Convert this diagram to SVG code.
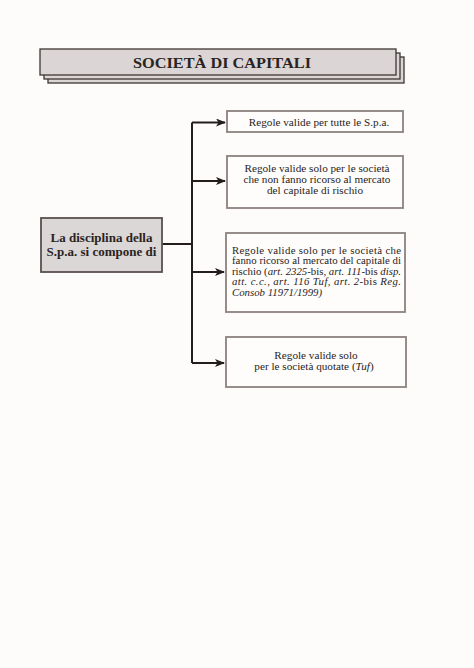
<svg xmlns="http://www.w3.org/2000/svg" width="474" height="668" viewBox="0 0 474 668">
<style>
.bg{fill:#fdfcfb}
.tbox{fill:#dbd6d5;stroke:#3e3532;stroke-width:1.3}
.mbox{fill:#dcd7d7;stroke:#5a504d;stroke-width:1.8}
.box{fill:#fefdfc;stroke:#8c817e;stroke-width:1.8}
.t{font-family:"Liberation Serif","Times New Roman",serif;fill:#2a2321}
.b{font-weight:bold}
.c{text-anchor:middle}
.s{font-size:11.2px}
.s3{font-size:10.8px}
.line{fill:none;stroke:#231e1c;stroke-width:2}
</style>
<defs>
<marker id="ah" markerWidth="10" markerHeight="8" refX="9" refY="4" orient="auto" markerUnits="userSpaceOnUse">
<path d="M0,0 L10,4 L0,8 L2.5,4 Z" fill="#231e1c"/>
</marker>
</defs>
<rect class="bg" width="474" height="668"/>
<g id="title">
<rect class="tbox" x="48" y="57" width="356" height="26"/>
<rect class="tbox" x="44" y="53" width="356" height="26"/>
<rect class="tbox" x="40" y="49" width="356" height="26"/>
<text class="t b" x="133" y="67.5" font-size="15" textLength="178" lengthAdjust="spacingAndGlyphs">SOCIETÀ DI CAPITALI</text>
</g>
<g id="connectors">
<path class="line" d="M162,244 H192"/>
<path class="line" d="M192,122.5 V363"/>
<path class="line" d="M192,122.5 H225" marker-end="url(#ah)"/>
<path class="line" d="M192,181 H225" marker-end="url(#ah)"/>
<path class="line" d="M192,272 H224" marker-end="url(#ah)"/>
<path class="line" d="M192,363 H224" marker-end="url(#ah)"/>
</g>
<g id="main">
<rect class="mbox" x="41" y="218" width="121" height="54"/>
<text class="t b c" x="101.5" y="242" font-size="13">La disciplina della</text>
<text class="t b c" x="101.5" y="256" font-size="13">S.p.a. si compone di</text>
</g>
<g id="n1">
<rect class="box" x="227" y="111" width="176" height="21"/>
<text class="t c s" x="319" y="125.5">Regole valide per tutte le S.p.a.</text>
</g>
<g id="n2">
<rect class="box" x="227" y="156" width="176" height="52"/>
<text class="t c s" x="317" y="172">Regole valide solo per le società</text>
<text class="t c s" x="317" y="183">che non fanno ricorso al mercato</text>
<text class="t c s" x="315" y="194">del capitale di rischio</text>
</g>
<g id="n3">
<rect class="box" x="226" y="233" width="179" height="79"/>
<text class="t s3" x="232" y="253.5" textLength="169" lengthAdjust="spacing">Regole valide solo per le società che</text>
<text class="t s3" x="232" y="264" textLength="169" lengthAdjust="spacing">fanno ricorso al mercato del capitale di</text>
<text class="t s3" x="232" y="274.5" textLength="169" lengthAdjust="spacing">rischio (<tspan font-style="italic">art.</tspan> <tspan font-style="italic">2325</tspan>-bis, <tspan font-style="italic">art. 111</tspan>-bis <tspan font-style="italic">disp.</tspan></text>
<text class="t s3" x="232" y="285" textLength="169" lengthAdjust="spacing" font-style="italic">att. c.c., art. 116 Tuf, art. 2<tspan font-style="normal">-bis</tspan> Reg.</text>
<text class="t s3" x="232" y="295.5" font-style="italic">Consob 11971/1999)</text>
</g>
<g id="n4">
<rect class="box" x="226" y="337" width="180" height="50"/>
<text class="t c s" x="316" y="359">Regole valide solo</text>
<text class="t c s" x="314" y="370">per le società quotate (<tspan font-style="italic">Tuf</tspan>)</text>
</g>
</svg>
